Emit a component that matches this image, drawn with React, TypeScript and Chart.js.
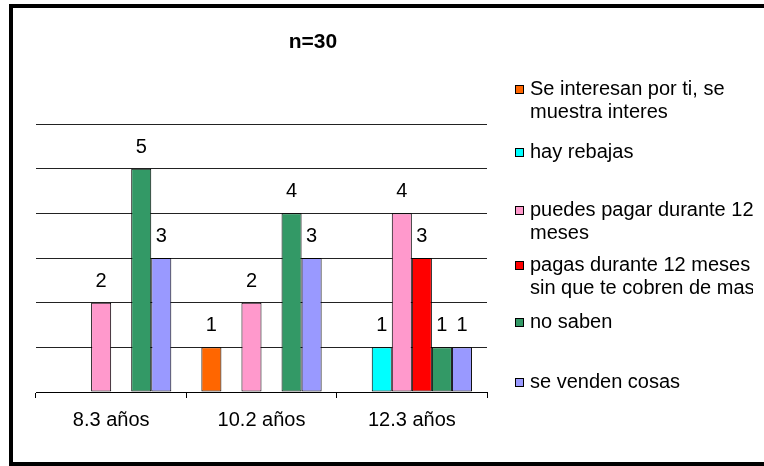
import { useEffect, useRef } from "react";
import { Chart, registerables } from "chart.js";

Chart.register(...registerables);

// Age groups on the category axis
const categories = ["8.3 años", "10.2 años", "12.3 años"];

// Series names (line breaks mark where the legend wraps)
const seriesNames = [
  "Se interesan por ti, se\nmuestra interes",
  "hay rebajas",
  "puedes pagar durante 12\nmeses",
  "pagas durante 12 meses\nsin que te cobren de mas",
  "no saben",
  "se venden cosas",
];

// Counts per age group (null = no answer in that group)
const seInteresan = [null, 1, null];
const hayRebajas = [null, null, 1];
const puedesPagar = [2, 2, 4];
const pagasDurante = [null, null, 3];
const noSaben = [5, 4, 1];
const seVenden = [3, 3, 1];

const seriesValues = [seInteresan, hayRebajas, puedesPagar, pagasDurante, noSaben, seVenden];
const seriesColors = ["#FF6600", "#00FFFF", "#FF99CC", "#FF0000", "#339966", "#9999FF"];

const yMin = 0;
const yMax = 6;
const yStep = 1;

const chartTitle = "n=30";

const FONT = "'Liberation Sans', Arial, Helvetica, sans-serif";
const TEXT_SIZE = 20;

// Title drawn above the plot area
const titlePlugin = {
  id: "titleText",
  afterDraw(chart: any) {
    const ctx = chart.ctx;
    ctx.save();
    ctx.font = `bold 21px ${FONT}`;
    ctx.fillStyle = "#000";
    ctx.textAlign = "center";
    ctx.textBaseline = "alphabetic";
    ctx.fillText(chartTitle, 300, 40);
    ctx.restore();
  },
};

// Value printed above each bar
const valueLabelPlugin = {
  id: "valueLabels",
  afterDatasetsDraw(chart: any) {
    const ctx = chart.ctx;
    ctx.save();
    ctx.font = `${TEXT_SIZE}px ${FONT}`;
    ctx.fillStyle = "#000";
    ctx.textAlign = "center";
    ctx.textBaseline = "alphabetic";
    chart.data.datasets.forEach((ds: any, i: number) => {
      const meta = chart.getDatasetMeta(i);
      meta.data.forEach((bar: any, j: number) => {
        const v = ds.data[j];
        if (v == null) return;
        ctx.fillText(String(v), bar.x, bar.y - 16);
      });
    });
    ctx.restore();
  },
};

// Legend on the right with wrapped entries
const sideLegendPlugin = {
  id: "sideLegend",
  afterDraw(chart: any) {
    const ctx = chart.ctx;
    const baselines = [87, 150, 208, 263, 320, 380];
    const lineGap = 23;
    const boxX = 502;
    const textX = 517;
    ctx.save();
    ctx.font = `${TEXT_SIZE}px ${FONT}`;
    ctx.textAlign = "left";
    ctx.textBaseline = "alphabetic";
    chart.data.datasets.forEach((ds: any, i: number) => {
      const y = baselines[i];
      ctx.fillStyle = ds.backgroundColor;
      ctx.fillRect(boxX, y - 10, 9, 9);
      ctx.strokeStyle = "#000";
      ctx.lineWidth = 1;
      ctx.strokeRect(boxX + 0.5, y - 9.5, 8, 8);
      ctx.fillStyle = "#000";
      String(ds.label)
        .split("\n")
        .forEach((line: string, k: number) => {
          ctx.fillText(line, textX, y + k * lineGap);
        });
    });
    ctx.restore();
  },
};

export default function App() {
  const canvasRef = useRef<HTMLCanvasElement | null>(null);

  useEffect(() => {
    const canvas = canvasRef.current;
    if (!canvas) return;
    const chart = new Chart(canvas, {
      type: "bar",
      data: {
        labels: categories,
        datasets: seriesValues.map((values, i) => ({
          label: seriesNames[i],
          data: values,
          backgroundColor: seriesColors[i],
          borderColor: "#000",
          borderWidth: 1,
          borderSkipped: false,
          categoryPercentage: 0.8,
          barPercentage: 1.0,
        })),
      },
      options: {
        responsive: false,
        animation: false,
        devicePixelRatio: 1,
        layout: { padding: { left: 23, right: 266, top: 116, bottom: 0 } },
        plugins: {
          legend: { display: false },
          title: { display: false },
          tooltip: { enabled: false },
        },
        scales: {
          x: {
            grid: {
              drawOnChartArea: false,
              drawTicks: true,
              tickLength: 6,
              color: "#000",
              offset: true,
            },
            border: { display: true, color: "#000", width: 1 },
            ticks: {
              color: "#000",
              font: { family: FONT, size: TEXT_SIZE },
              padding: 10,
              maxRotation: 0,
            },
            afterFit: (scale: any) => {
              scale.height = 70;
            },
          },
          y: {
            min: yMin,
            max: yMax,
            ticks: { display: false, stepSize: yStep },
            grid: { color: "#222", drawTicks: false },
            border: { display: false },
            afterFit: (scale: any) => {
              scale.width = 0;
            },
          },
        },
      },
      plugins: [valueLabelPlugin, titlePlugin, sideLegendPlugin],
    });
    return () => chart.destroy();
  }, []);

  return (
    <div
      style={{
        position: "absolute",
        left: 0,
        top: 0,
        width: 764,
        height: 466,
        overflow: "hidden",
        background: "#fff",
      }}
    >
      <div
        style={{
          position: "absolute",
          left: 9,
          top: 4,
          width: 772,
          height: 462,
          border: "4px solid #000",
          boxSizing: "border-box",
          background: "#fff",
        }}
      >
        <canvas
          ref={canvasRef}
          width={740}
          height={454}
          style={{ display: "block", width: 740, height: 454 }}
        />
      </div>
    </div>
  );
}
